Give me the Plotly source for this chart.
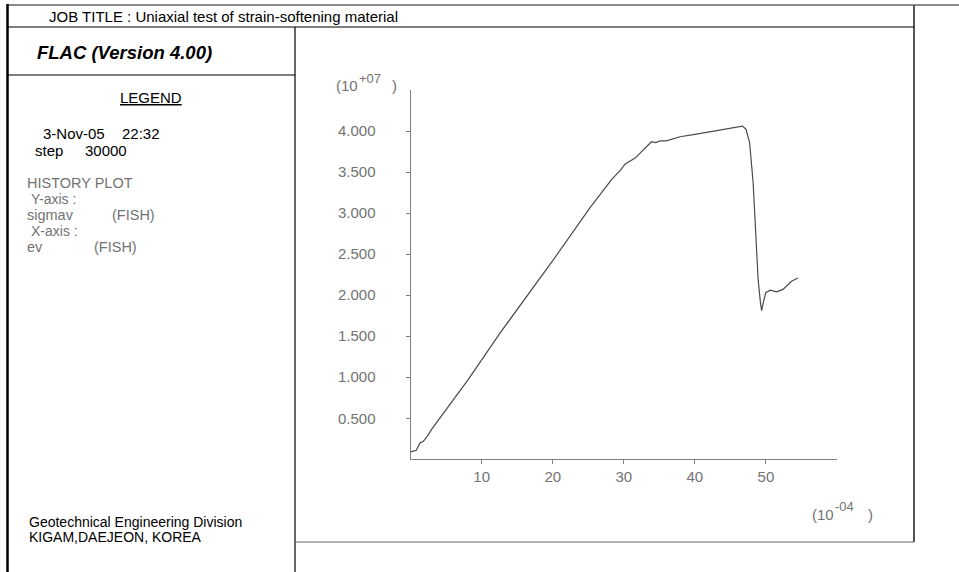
import plotly.graph_objects as go

# ---- data (display units: strain x 1e-4, stress x 1e7) ----
ev_1e4 = [0.0, 0.8, 1.3, 1.8, 2.5, 3.0, 8.1, 12.6, 20.0, 25.2, 28.3, 29.5, 30.2, 31.6,
          32.5, 33.9, 34.5, 35.1, 36.0, 37.9, 40.0, 42.0, 44.0, 45.5, 46.7, 47.2, 47.7,
          48.2, 48.76, 48.9, 49.24, 49.4, 49.6, 49.98, 50.6, 51.5, 52.4, 53.6, 54.5]
sigmav_1e7 = [0.09, 0.11, 0.195, 0.22, 0.30, 0.37, 0.97, 1.54, 2.42, 3.06, 3.41, 3.52, 3.60, 3.67,
              3.75, 3.87, 3.86, 3.88, 3.88, 3.93, 3.96, 3.99, 4.02, 4.04, 4.06, 4.02, 3.86,
              3.37, 2.43, 2.19, 1.90, 1.81, 1.90, 2.03, 2.06, 2.04, 2.07, 2.17, 2.21]

x_ticks = [10, 20, 30, 40, 50]
y_ticks = [0.5, 1.0, 1.5, 2.0, 2.5, 3.0, 3.5, 4.0]
y_tick_text = ["0.500", "1.000", "1.500", "2.000", "2.500", "3.000", "3.500", "4.000"]

W, H = 959, 572
FONT = "Liberation Sans, Arial, sans-serif"
GRAY_TXT = "#737373"
AX = "#808080"
FS = 15


def px(x):
    return x / W


def py(y):
    return 1 - y / H


fig = go.Figure()
fig.add_trace(go.Scatter(x=ev_1e4, y=sigmav_1e7, mode="lines",
                         line=dict(color="#4a4a4a", width=1.2), hoverinfo="skip",
                         showlegend=False))

fig.update_layout(
    width=W, height=H,
    margin=dict(l=0, r=0, t=0, b=0, autoexpand=False),
    paper_bgcolor="white", plot_bgcolor="white",
    showlegend=False,
    font=dict(family=FONT, size=FS, color="black"),
    xaxis=dict(domain=[px(410.6), px(837)], range=[0, 60], showgrid=False, zeroline=False,
               showline=True, linecolor=AX, linewidth=1.2, ticks="outside", ticklen=4,
               tickcolor=AX, tickvals=x_ticks, ticktext=[str(v) for v in x_ticks],
               automargin=False,
               tickfont=dict(family=FONT, size=FS, color=GRAY_TXT)),
    yaxis=dict(domain=[py(459.3), py(90)], range=[0, 4.5], showgrid=False, zeroline=False,
               showline=True, linecolor=AX, linewidth=1.2, ticks="outside", ticklen=4,
               tickcolor=AX, tickvals=y_ticks, ticktext=y_tick_text,
               ticklabelstandoff=27, automargin=False,
               tickfont=dict(family=FONT, size=FS, color=GRAY_TXT)),
)

# ---- frame lines ----
def line(x0, y0, x1, y1, color="black", width=1):
    fig.add_shape(type="line", xref="paper", yref="paper",
                  x0=px(x0), y0=py(y0), x1=px(x1), y1=py(y1),
                  line=dict(color=color, width=width), layer="above")

line(7, 5, W, 5, "#8a8a8a", 2)        # top
line(7.5, 4, 7.5, H, "black", 2.5)    # left
line(914, 5, 914, 542, "#555555", 2)  # right
line(7, 27, 914, 27, "black", 1.2)    # under job title
line(295, 27, 295, H, "black", 1.2)   # divider
line(7, 75, 295, 75, "black", 1.2)    # under FLAC
line(295, 542, 914, 542, "#666666", 1.2)  # bottom of plot panel


def text(x, y, s, color="black", size=FS, anchor="left"):
    fig.add_annotation(xref="paper", yref="paper", x=px(x), y=py(y), text=s,
                       showarrow=False, xanchor=anchor, yanchor="middle",
                       font=dict(family=FONT, size=size, color=color))

text(47, 16, "JOB TITLE : Uniaxial test of strain-softening material")
text(35, 52, "<b><i>FLAC (Version 4.00)</i></b>", size=18.5)
text(151, 97, "<u>LEGEND</u>", anchor="center")
text(41, 133, "3-Nov-05")
text(120, 133, "22:32")
text(33, 151, "step")
text(83, 151, "30000")
text(25, 183, "HISTORY PLOT", GRAY_TXT, size=14.5)
text(29, 199, "Y-axis :", GRAY_TXT, size=14)
text(25, 215, "sigmav", GRAY_TXT, size=14.5)
text(110, 215, "(FISH)", GRAY_TXT, size=14.5)
text(29, 231, "X-axis :", GRAY_TXT, size=14)
text(25, 247, "ev", GRAY_TXT, size=14.5)
text(92, 247, "(FISH)", GRAY_TXT, size=14.5)
text(27, 522, "Geotechnical Engineering Division", size=14)
text(27, 537, "KIGAM,DAEJEON, KOREA", size=14)

# axis multipliers
text(334, 86, "(10", GRAY_TXT)
text(357, 78, "+07", GRAY_TXT, size=13)
text(390, 86, ")", GRAY_TXT)
text(810, 514, "(10", GRAY_TXT)
text(833, 506, "-04", GRAY_TXT, size=13)
text(866, 514, ")", GRAY_TXT)

fig.write_html("out.html")
